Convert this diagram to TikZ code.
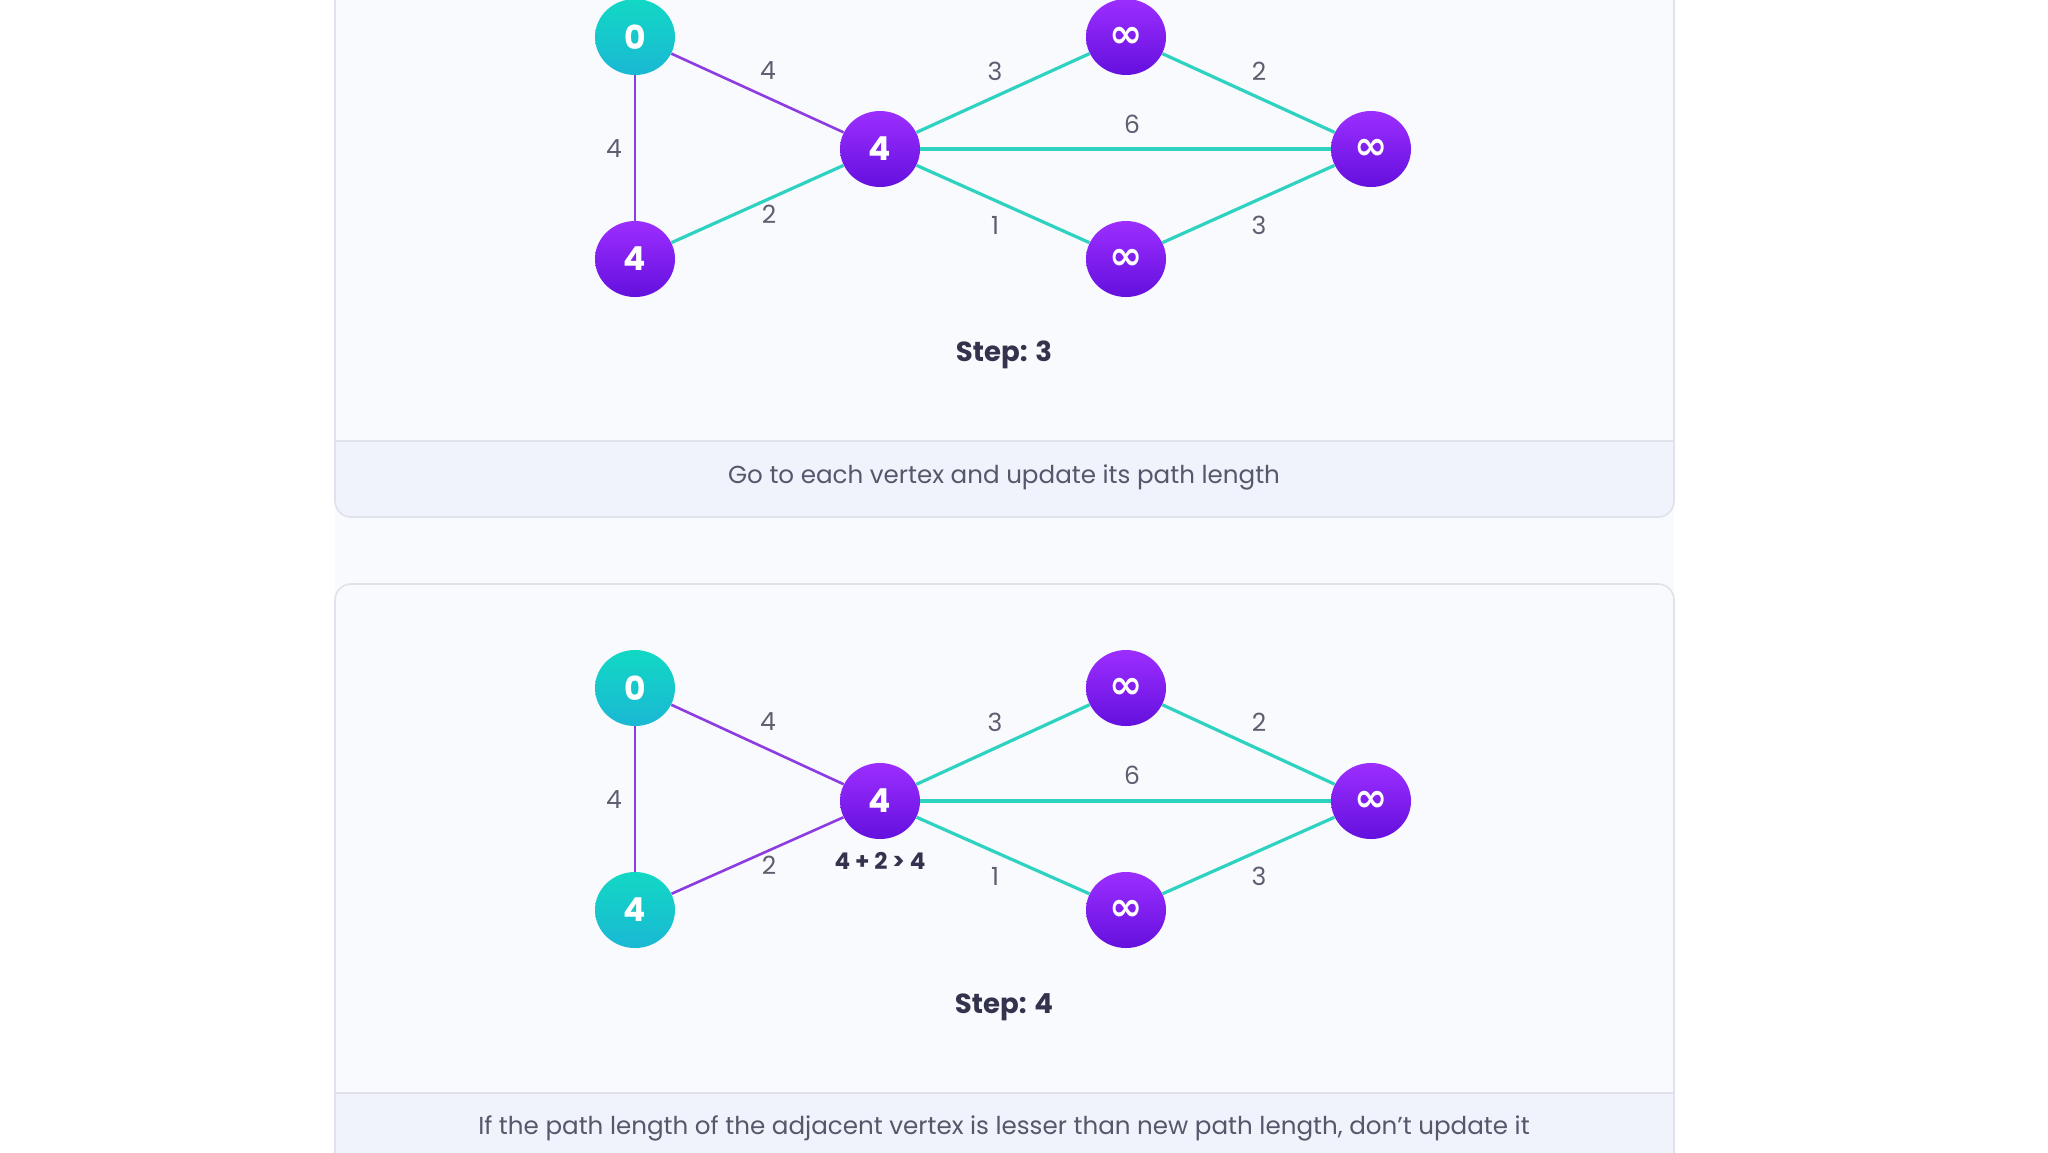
\documentclass[tikz,border=0pt]{standalone}
\usepackage{fontspec}
\setmainfont{Poppins}
\newfontfamily\symfont{DejaVu Sans}
\usetikzlibrary{shapes.geometric}

\definecolor{panelbg}{HTML}{F9FAFD}
\definecolor{bandbg}{HTML}{F0F3FB}
\definecolor{rule}{HTML}{DFE2EA}
\definecolor{tealtop}{HTML}{12D8C4}
\definecolor{tealbot}{HTML}{1AB8D4}
\definecolor{purptop}{HTML}{9C2EFF}
\definecolor{purpbot}{HTML}{6410DE}
\definecolor{purpline}{HTML}{8C3CE0}
\definecolor{tealline}{HTML}{2ED2C0}
\definecolor{wtgrey}{HTML}{5E5E70}
\definecolor{stepink}{HTML}{33334E}
\definecolor{capgrey}{HTML}{57576B}

\newcommand{\unreached}{{\symfont\bfseries\fontsize{20}{20}\selectfont ∞}}

\begin{document}
\begin{tikzpicture}[x=0.5pt,y=-0.5pt,
  vtx/.style={ellipse, minimum width=40pt, minimum height=38pt, inner sep=0pt,
    text=white, font=\fontsize{16.5}{16.5}\selectfont\bfseries},
  visited/.style={vtx, top color=tealtop, bottom color=tealbot},
  unvisited/.style={vtx, top color=purptop, bottom color=purpbot},
  pedge/.style={draw=purpline, line width=1.3pt},
  tedge/.style={draw=tealline, line width=1.6pt},
  wt/.style={text=wtgrey, font=\fontsize{12.5}{12.5}\selectfont},
  steplbl/.style={text=stepink, font=\fontsize{13.8}{13.8}\selectfont\bfseries},
  caption/.style={text=capgrey, font=\fontsize{12.3}{12.3}\selectfont},
  sumlbl/.style={text=stepink, font=\fontsize{11.5}{11.5}\selectfont\bfseries}]

\useasboundingbox (0,0) rectangle (2048,1152);
%\draw [step=100, dotted] (0,0) grid (2048,1152);

\fill [white] (0,0) rectangle (2048,1152);
\fill [panelbg] (335,0) rectangle (1674,1152);

% step 3 panel
\fill [panelbg, rounded corners=8] (335,-30) rectangle (1674,517);
\fill [bandbg, rounded corners=8] (335,441) rectangle (1674,517);
\fill [bandbg] (335,441) rectangle (1674,470);
\draw [rule, line width=0.8pt, rounded corners=8] (335,-30) rectangle (1674,517);
\draw [rule, line width=0.8pt] (335,441) -- (1674,441);

% step 4 panel
\fill [panelbg, rounded corners=8] (335,584) rectangle (1674,1200);
\fill [bandbg] (335,1093) rectangle (1674,1200);
\draw [rule, line width=0.8pt, rounded corners=8] (335,584) rectangle (1674,1200);
\draw [rule, line width=0.8pt] (335,1093) -- (1674,1093);

% step 3 graph
\node [visited] (a1) at (635,37) {0};
\node [unvisited] (b1) at (635,259) {4};
\node [unvisited] (c1) at (880,149) {4};
\node [unvisited] (d1) at (1126,37) {\unreached};
\node [unvisited] (e1) at (1371,149) {\unreached};
\node [unvisited] (f1) at (1126,259) {\unreached};

\draw [pedge] (a1) -- (c1);
\draw [pedge] (a1) -- (b1);
\draw [tedge] (b1) -- (c1);
\draw [tedge] (c1) -- (d1);
\draw [tedge] (c1) -- (e1);
\draw [tedge] (c1) -- (f1);
\draw [tedge] (d1) -- (e1);
\draw [tedge] (f1) -- (e1);

\node [wt] (ac1) at (768,71) {4};
\node [wt] (ab1) at (614,149) {4};
\node [wt] (bc1) at (769,214) {2};
\node [wt] (cd1) at (995,71) {3};
\node [wt] (ce1) at (1132,124) {6};
\node [wt] (cf1) at (995,225) {1};
\node [wt] (de1) at (1259,71) {2};
\node [wt] (fe1) at (1259,225) {3};

\node [steplbl] (step3) at (1004,355) {Step: 3};
\node [caption] (cap3) at (1004,477) {Go to each vertex and update its path length};

% step 4 graph
\node [visited] (a2) at (635,688) {0};
\node [visited] (b2) at (635,910) {4};
\node [unvisited] (c2) at (880,801) {4};
\node [unvisited] (d2) at (1126,688) {\unreached};
\node [unvisited] (e2) at (1371,801) {\unreached};
\node [unvisited] (f2) at (1126,910) {\unreached};

\draw [pedge] (a2) -- (c2);
\draw [pedge] (a2) -- (b2);
\draw [pedge] (b2) -- (c2);
\draw [tedge] (c2) -- (d2);
\draw [tedge] (c2) -- (e2);
\draw [tedge] (c2) -- (f2);
\draw [tedge] (d2) -- (e2);
\draw [tedge] (f2) -- (e2);

\node [wt] (ac2) at (768,722) {4};
\node [wt] (ab2) at (614,800) {4};
\node [wt] (bc2) at (769,865) {2};
\node [wt] (cd2) at (995,722) {3};
\node [wt] (ce2) at (1132,775) {6};
\node [wt] (cf2) at (995,876) {1};
\node [wt] (de2) at (1259,722) {2};
\node [wt] (fe2) at (1259,876) {3};

\node [sumlbl] (sum4) at (880,861) {4 + 2 > 4};
\node [steplbl] (step4) at (1004,1007) {Step: 4};
\node [caption] (cap4) at (1004,1128) {If the path length of the adjacent vertex is lesser than new path length, don't update it};

\end{tikzpicture}
\end{document}
